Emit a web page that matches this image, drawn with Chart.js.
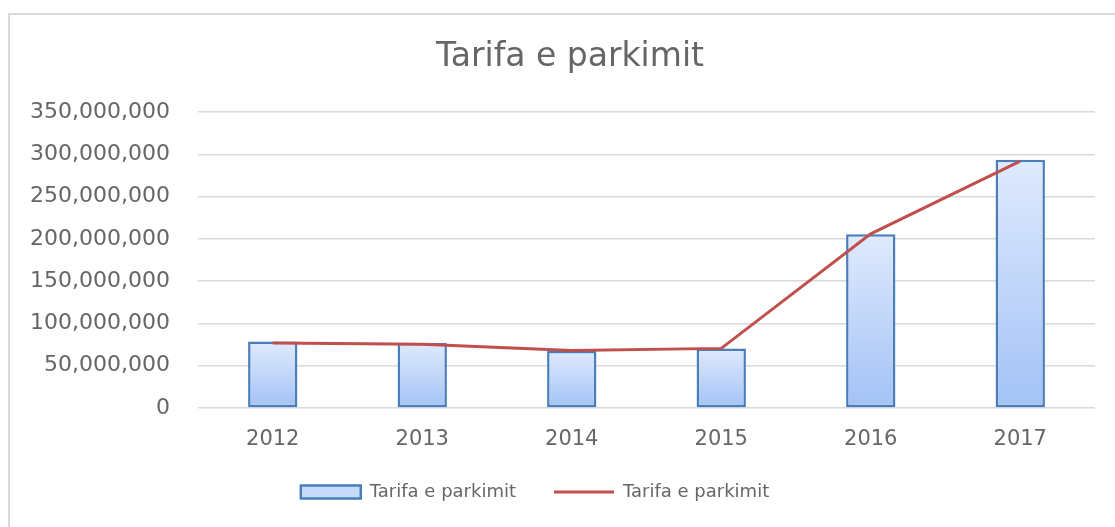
<!DOCTYPE html>
<html>
<head>
<meta charset="utf-8">
<script src="https://cdn.jsdelivr.net/npm/chart.js@4.4.1/dist/chart.umd.min.js"></script>
<style>
  html, body { margin: 0; padding: 0; background: #ffffff; overflow: hidden; }
  #wrap { position: relative; width: 1115px; height: 527px; }
  #frame { position: absolute; left: 8px; top: 13px; width: 1120px; height: 540px;
           border: 2px solid #d9d9d9; box-sizing: border-box; pointer-events: none; }
  canvas { position: absolute; left: 0; top: 0; }
</style>
</head>
<body>
<div id="wrap">
  <canvas id="c" width="1115" height="527"></canvas>
  <div id="frame"></div>
</div>
<script>
const chartTitle = 'Tarifa e parkimit';
const categories = ['2012', '2013', '2014', '2015', '2016', '2017'];
const barLabel = 'Tarifa e parkimit';
const barValues = [78500000, 77000000, 67500000, 70500000, 205500000, 293500000];
const lineLabel = 'Tarifa e parkimit';
const lineValues = [77000000, 75500000, 68000000, 70500000, 206000000, 292000000];
const yTicks = [0, 50000000, 100000000, 150000000, 200000000, 250000000, 300000000, 350000000];

const textColor = '#666666';
const gridColor = '#d9d9d9';

function barGradient(ctx) {
  const chart = ctx.chart;
  if (!chart.chartArea || ctx.raw === undefined) return '#c9dbfa';
  const ys = chart.scales.y;
  const top = ys.getPixelForValue(ctx.raw);
  const bottom = ys.getPixelForValue(0);
  const g = chart.ctx.createLinearGradient(0, top, 0, bottom);
  g.addColorStop(0, '#dfeafd');
  g.addColorStop(1, '#a3c2f7');
  return g;
}

const shiftPlugin = {
  id: 'shiftBlocks',
  afterLayout(chart) {
    const t = chart.titleBlock;
    if (t) { t.left += 45; }
    const l = chart.legend;
    if (l) { l.left -= 25; }
  }
};

new Chart(document.getElementById('c'), {
  data: {
    labels: categories,
    datasets: [
      {
        type: 'line',
        label: lineLabel,
        data: lineValues,
        borderColor: '#C0504D',
        backgroundColor: '#C0504D',
        borderWidth: 3,
        pointRadius: 0,
        tension: 0,
        order: 0
      },
      {
        type: 'bar',
        label: barLabel,
        data: barValues,
        backgroundColor: barGradient,
        borderColor: '#4A7EBB',
        borderWidth: 2.5,
        borderSkipped: false,
        categoryPercentage: 1,
        barPercentage: 0.33,
        order: 1
      }
    ]
  },
  options: {
    responsive: false,
    animation: false,
    layout: { padding: { left: 0, right: 20, top: 38, bottom: 16 } },
    plugins: {
      title: {
        display: true,
        text: chartTitle,
        color: textColor,
        font: { family: 'DejaVu Sans', size: 33, weight: 'normal', lineHeight: 1.2 },
        padding: { top: 0, bottom: 34.4 }
      },
      legend: {
        position: 'bottom',
        labels: {
          color: textColor,
          font: { family: 'DejaVu Sans', size: 18 },
          usePointStyle: true,
          pointStyleWidth: 60,
          boxHeight: 13,
          padding: 38,
          generateLabels(chart) {
            return [
              { text: barLabel, fillStyle: '#c9dbfa', strokeStyle: '#4A7EBB', lineWidth: 2.5,
                pointStyle: 'rect', fontColor: textColor, datasetIndex: 1, hidden: false },
              { text: lineLabel, fillStyle: '#C0504D', strokeStyle: '#C0504D', lineWidth: 3,
                pointStyle: 'line', fontColor: textColor, datasetIndex: 0, hidden: false }
            ];
          }
        }
      },
      tooltip: { enabled: false }
    },
    scales: {
      x: {
        grid: { display: false, drawTicks: false },
        border: { display: false },
        ticks: { color: textColor, font: { family: 'DejaVu Sans', size: 21 }, padding: 19.4 },
        afterFit(scale) { scale.height = 37; }
      },
      y: {
        min: 0,
        max: 350000000,
        afterBuildTicks(scale) { scale.ticks = yTicks.map(v => ({ value: v })); },
        grid: { color: gridColor, lineWidth: 1.5, drawTicks: false },
        border: { display: false },
        ticks: {
          color: textColor,
          font: { family: 'DejaVu Sans', size: 22 },
          padding: 28,
          callback: v => Number(v).toLocaleString('en-US')
        },
        afterFit(scale) { scale.width = 198; }
      }
    }
  },
  plugins: [shiftPlugin]
});
</script>
</body>
</html>
